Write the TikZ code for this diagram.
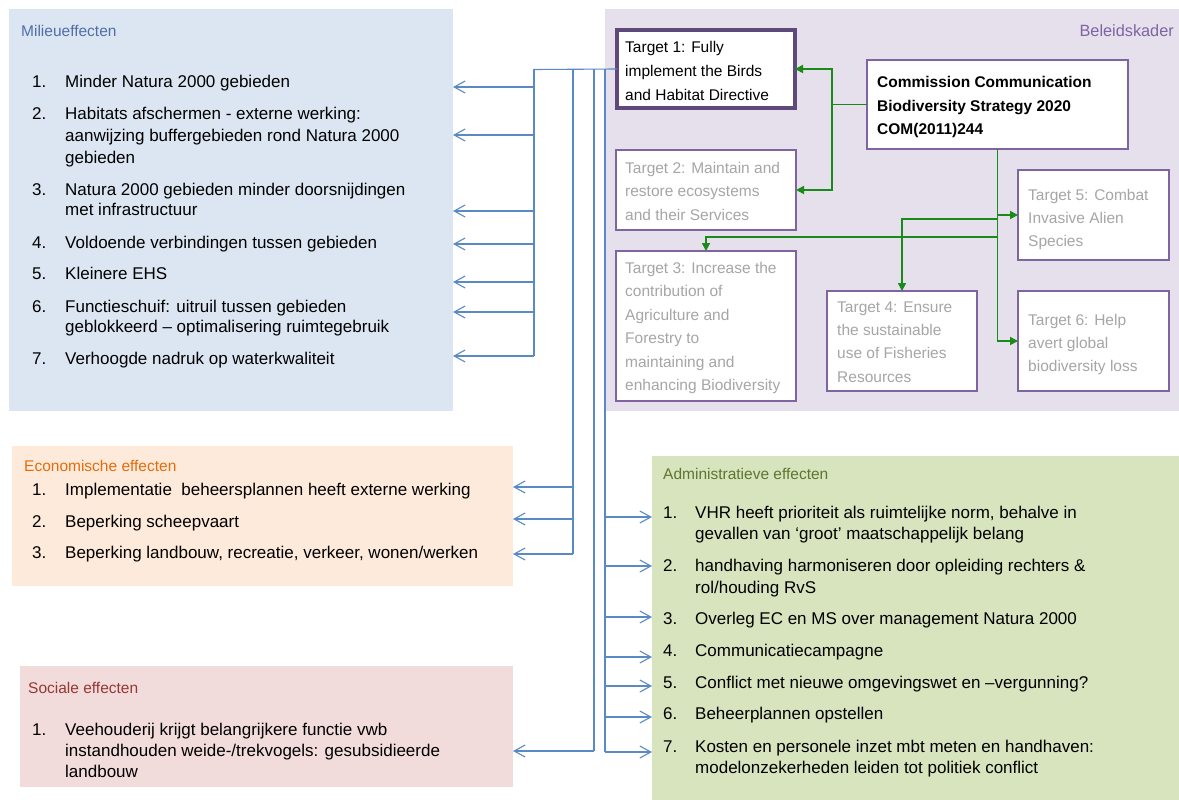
\documentclass[tikz,border=0pt]{standalone}
\usepackage{fontspec}
\setmainfont{Liberation Sans}
\usetikzlibrary{arrows.meta}

\definecolor{milieufill}{HTML}{DCE6F2}
\definecolor{beleidfill}{HTML}{E5E0EC}
\definecolor{econfill}{HTML}{FDEADA}
\definecolor{socfill}{HTML}{F2DCDB}
\definecolor{adminfill}{HTML}{D7E4BD}
\definecolor{milieutitle}{HTML}{4F6EA8}
\definecolor{econtitle}{HTML}{E46C0A}
\definecolor{soctitle}{HTML}{953735}
\definecolor{admintitle}{HTML}{5F7530}
\definecolor{beleidtitle}{HTML}{7F64A2}
\definecolor{tborder}{HTML}{8064A2}
\definecolor{tborderdark}{HTML}{5F497A}
\definecolor{tgrey}{HTML}{A6A6A6}
\definecolor{bluelink}{HTML}{5A8AC6}
\definecolor{greenlink}{HTML}{1A8A1A}

\newcommand\setfs[1]{\fontsize{#1}{#1}\selectfont}

\tikzset{
  panel/.style={draw=none, inner sep=0pt, outer sep=0pt, anchor=north west},
  tbox/.style={draw=tborder, line width=1.2pt, fill=white, inner sep=0pt, outer sep=0pt, anchor=north west},
  itm/.style={anchor=base west, inner sep=0pt, font=\setfs{17}, text=black},
  ttl/.style={anchor=base west, inner sep=0pt, font=\setfs{15.5}},
  tgt/.style={anchor=base west, inner sep=0pt, font=\setfs{15.5}, text=tgrey},
  bline/.style={draw=bluelink, line width=1.1pt},
  barr/.style={bline, -{Straight Barb[length=11pt,width=12pt]}},
  gline/.style={draw=greenlink, line width=1.7pt},
  garr/.style={gline, -{Triangle[length=8pt,width=8pt]}}
}

\begin{document}
\begin{tikzpicture}[x=1pt,y=-1pt]
\useasboundingbox (0,0) rectangle (1179,800);
\fill[white] (0,0) rectangle (1179,800);

% coloured panels
\node[panel, fill=milieufill, minimum width=444pt, minimum height=402pt] (milieu) at (9,9) {};
\node[panel, fill=beleidfill, minimum width=574pt, minimum height=402pt] (beleid) at (605,9) {};
\node[panel, fill=econfill, minimum width=501pt, minimum height=140pt] (econ) at (12,446) {};
\node[panel, fill=socfill, minimum width=493pt, minimum height=121pt] (social) at (20,666) {};
\node[panel, fill=adminfill, minimum width=527pt, minimum height=344pt] (admin) at (652,456) {};

% panel titles
\node[ttl, text=milieutitle] (milieuT) at (21,37) {Milieueffecten};
\node[ttl, text=beleidtitle, anchor=base east, font=\setfs{16.3}] (beleidT) at (1174,37) {Beleidskader};
\node[ttl, text=econtitle] (econT) at (24,471) {Economische effecten};
\node[ttl, text=soctitle] (socT) at (28,693) {Sociale effecten};
\node[ttl, text=admintitle] (adminT) at (663,479) {Administratieve effecten};

% policy frame boxes
\node[tbox, draw=tborderdark, line width=4pt, minimum width=178pt, minimum height=78pt] (t1) at (617,30) {};
\node[tbox, minimum width=180pt, minimum height=80pt] (t2) at (616,150) {};
\node[tbox, minimum width=180pt, minimum height=150pt] (t3) at (616,251) {};
\node[tbox, minimum width=150pt, minimum height=100pt] (t4) at (827,291) {};
\node[tbox, minimum width=151pt, minimum height=90pt] (t5) at (1018,170) {};
\node[tbox, minimum width=151pt, minimum height=100pt] (t6) at (1018,291) {};
\node[tbox, minimum width=261pt, minimum height=89pt] (com) at (867,60) {};

\node[tgt, text=black] (t1a) at (625,53) {Target 1: Fully};
\node[tgt, text=black] (t1b) at (625,77) {implement the Birds};
\node[tgt, text=black] (t1c) at (625,100) {and Habitat Directive};

\node[tgt] (t2a) at (625,173) {Target 2: Maintain and};
\node[tgt] (t2b) at (625,196.5) {restore ecosystems};
\node[tgt] (t2c) at (625,220) {and their Services};

\node[tgt] (t3a) at (625,273) {Target 3: Increase the};
\node[tgt] (t3b) at (625,296.5) {contribution of};
\node[tgt] (t3c) at (625,320) {Agriculture and};
\node[tgt] (t3d) at (625,343.5) {Forestry to};
\node[tgt] (t3e) at (625,367) {maintaining and};
\node[tgt] (t3f) at (625,390.5) {enhancing Biodiversity};

\node[tgt] (t4a) at (837,312) {Target 4: Ensure};
\node[tgt] (t4b) at (837,335) {the sustainable};
\node[tgt] (t4c) at (837,358) {use of Fisheries};
\node[tgt] (t4d) at (837,382) {Resources};

\node[tgt] (t5a) at (1028,200) {Target 5: Combat};
\node[tgt] (t5b) at (1028,223) {Invasive Alien};
\node[tgt] (t5c) at (1028,246) {Species};

\node[tgt] (t6a) at (1028,325) {Target 6: Help};
\node[tgt] (t6b) at (1028,348) {avert global};
\node[tgt] (t6c) at (1028,371) {biodiversity loss};

\node[tgt, text=black, font=\setfs{15.5}\bfseries] (coma) at (877,88) {Commission Communication};
\node[tgt, text=black, font=\setfs{15.5}\bfseries] (comb) at (877,111.5) {Biodiversity Strategy 2020};
\node[tgt, text=black, font=\setfs{15.5}\bfseries] (comc) at (877,135) {COM(2011)244};

% green links from the strategy to its targets
\coordinate (gsplit) at (832,104.5);
\coordinate (g4) at (997.5,219);
\coordinate (g3) at (997.5,237);
\draw[gline] (com.west) -- (gsplit);
\draw[garr] (gsplit) |- (t1.east);
\draw[garr] (gsplit) |- (t2.east);
\draw[garr] (com.south) |- (t6.west);
\draw[garr] (com.south |- t5.west) -- (t5.west);
\draw[garr] (g4) -| (t4.north);
\draw[garr] (g3) -| (t3.north);

% environmental effects
\node[itm] (m1n) at (32,88) {1.};
\node[itm] (m1) at (65,88) {Minder Natura 2000 gebieden};
\node[itm] (m2n) at (32,120) {2.};
\node[itm] (m2a) at (65,120) {Habitats afschermen - externe werking:};
\node[itm] (m2b) at (65,141.5) {aanwijzing buffergebieden rond Natura 2000};
\node[itm] (m2c) at (65,163) {gebieden};
\node[itm] (m3n) at (32,195) {3.};
\node[itm] (m3a) at (65,195) {Natura 2000 gebieden minder doorsnijdingen};
\node[itm] (m3b) at (65,215.5) {met infrastructuur};
\node[itm] (m4n) at (32,248) {4.};
\node[itm] (m4) at (65,248) {Voldoende verbindingen tussen gebieden};
\node[itm] (m5n) at (32,279) {5.};
\node[itm] (m5) at (65,279) {Kleinere EHS};
\node[itm] (m6n) at (32,312) {6.};
\node[itm] (m6a) at (65,312) {Functieschuif: uitruil tussen gebieden};
\node[itm] (m6b) at (65,332.5) {geblokkeerd – optimalisering ruimtegebruik};
\node[itm] (m7n) at (32,364.5) {7.};
\node[itm] (m7) at (65,364.5) {Verhoogde nadruk op waterkwaliteit};

% economic effects
\node[itm] (e1n) at (32,495) {1.};
\node[itm] (e1) at (65,495) {Implementatie\ \ beheersplannen heeft externe werking};
\node[itm] (e2n) at (32,527) {2.};
\node[itm] (e2) at (65,527) {Beperking scheepvaart};
\node[itm] (e3n) at (32,558) {3.};
\node[itm] (e3) at (65,558) {Beperking landbouw, recreatie, verkeer, wonen/werken};

% social effects
\node[itm] (s1n) at (32,735) {1.};
\node[itm] (s1a) at (65,735) {Veehouderij krijgt belangrijkere functie vwb};
\node[itm] (s1b) at (65,756) {instandhouden weide-/trekvogels: gesubsidieerde};
\node[itm] (s1c) at (65,777) {landbouw};

% administrative effects
\node[itm] (a1n) at (663,518) {1.};
\node[itm] (a1a) at (695,518) {VHR heeft prioriteit als ruimtelijke norm, behalve in};
\node[itm] (a1b) at (695,539) {gevallen van ‘groot’ maatschappelijk belang};
\node[itm] (a2n) at (663,571) {2.};
\node[itm] (a2a) at (695,571) {handhaving harmoniseren door opleiding rechters \&};
\node[itm] (a2b) at (695,593) {rol/houding RvS};
\node[itm] (a3n) at (663,624) {3.};
\node[itm] (a3) at (695,624) {Overleg EC en MS over management Natura 2000};
\node[itm] (a4n) at (663,656) {4.};
\node[itm] (a4) at (695,656) {Communicatiecampagne};
\node[itm] (a5n) at (663,688) {5.};
\node[itm] (a5) at (695,688) {Conflict met nieuwe omgevingswet en –vergunning?};
\node[itm] (a6n) at (663,719) {6.};
\node[itm] (a6) at (695,719) {Beheerplannen opstellen};
\node[itm] (a7n) at (663,752) {7.};
\node[itm] (a7a) at (695,752) {Kosten en personele inzet mbt meten en handhaven:};
\node[itm] (a7b) at (695,773) {modelonzekerheden leiden tot politiek conflict};

% blue links from target 1 to the effects
\coordinate (bm) at (534,69.5);
\coordinate (be) at (573,69.5);
\coordinate (bs) at (594,69.5);
\coordinate (ba) at (605,69.5);
\draw[bline] (t1.west) -- (bm);
\draw[bline] (bm) -- (534,356);
\draw[bline] (be) -- (573,554);
\draw[bline] (bs) -- (594,751);
\draw[bline] (ba) -- (605,752);

\foreach \y [count=\i] in {87,135,211,244,282,312,356} {
  \coordinate (mj\i) at (bm |- 0,\y);
  \coordinate (mt\i) at (milieu.east |- 0,\y);
  \draw[barr] (mj\i) -- (mt\i);
}
\foreach \y [count=\i] in {487,519,554} {
  \coordinate (ej\i) at (be |- 0,\y);
  \coordinate (et\i) at (econ.east |- 0,\y);
  \draw[barr] (ej\i) -- (et\i);
}
\coordinate (sj1) at (bs |- 0,751);
\coordinate (st1) at (social.east |- 0,751);
\draw[barr] (sj1) -- (st1);
\foreach \y [count=\i] in {517,566,617,657,686,717,752} {
  \coordinate (aj\i) at (ba |- 0,\y);
  \coordinate (at\i) at (admin.west |- 0,\y);
  \draw[barr] (aj\i) -- (at\i);
}
\end{tikzpicture}
\end{document}
